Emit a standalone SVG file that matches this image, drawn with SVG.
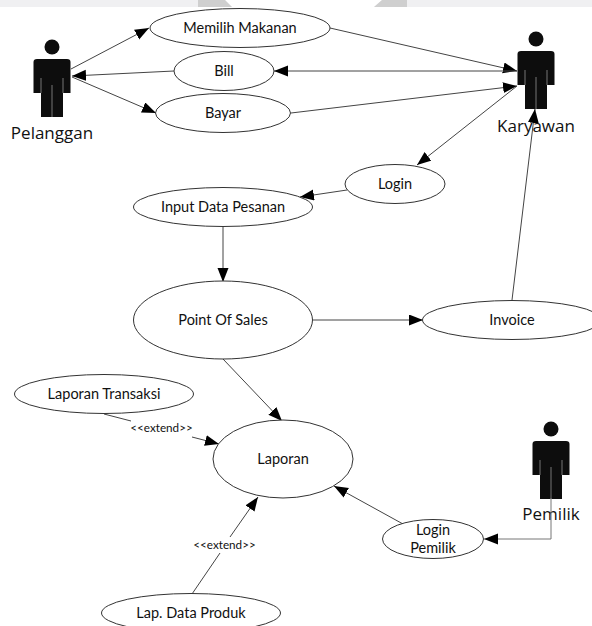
<svg xmlns="http://www.w3.org/2000/svg" width="592" height="626" viewBox="0 0 592 626">
<style>
text{font-family:"Lato","Open Sans","Liberation Sans",sans-serif;fill:#111;text-anchor:middle}
.u{font-size:14.500px}
.a{font-family:"Open Sans","Noto Sans","Liberation Sans",sans-serif;font-size:17px}
.s{font-size:11.700px}
ellipse{fill:#fff;stroke:#333;stroke-width:1}
.c{fill:none;stroke:#444;stroke-width:1}
.p{fill:#0d0d0d}
.l{stroke:#777;stroke-width:1;fill:none}
</style>
<defs>
<marker id="ah" markerUnits="userSpaceOnUse" markerWidth="16" markerHeight="12" refX="14" refY="5.500" orient="auto-start-reverse" viewBox="0 0 16 12"><path d="M0 0L14 5.500L0 11Z" fill="#000"/></marker>
<symbol id="actor" overflow="visible"><circle cx="0" cy="-25" r="7.500" class="p"/><path class="p" d="M-15-13Q-18.500-13-18.500-10V21H-11V45H11V21H18.500V-10Q18.500-13 15-13Z"/><path class="l" d="M-11 6V21M11 6V21M0 13V45"/></symbol>
</defs>
<path d="M0 0H225L232 7H0Z M382 0H592V7H374Z" fill="#f0f0f2"/>
<path d="M198 0H225L232 7H198Z M382 0H407V7H374Z" fill="#cfcfcf"/>
<g id="connectors">
<path class="c" marker-end="url(#ah)" d="M71 69L149 28"/>
<path class="c" marker-end="url(#ah)" d="M330 28L517 71"/>
<path class="c" marker-start="url(#ah)" d="M274 71H517"/>
<path class="c" marker-end="url(#ah)" d="M174 71L72 76"/>
<path class="c" marker-end="url(#ah)" d="M72 77L156 113"/>
<path class="c" marker-end="url(#ah)" d="M291 113L517 86"/>
<path class="c" marker-end="url(#ah)" d="M517 86L417 165"/>
<path class="c" marker-end="url(#ah)" d="M347 190L300 197"/>
<path class="c" marker-end="url(#ah)" d="M223 227V282"/>
<path class="c" marker-end="url(#ah)" d="M313 320H423"/>
<path class="c" marker-end="url(#ah)" d="M512 300L535 109"/>
<path class="c" marker-end="url(#ah)" d="M223 359L282 421"/>
<path class="c" d="M104 414L131 421"/>
<path class="c" marker-end="url(#ah)" d="M192 437L219 444"/>
<path class="c" d="M192 594L220 553"/>
<path class="c" marker-end="url(#ah)" d="M230 537L258 497"/>
<path class="c" marker-end="url(#ah)" d="M403 524L334 486"/>
</g>
<g id="n-memilih"><ellipse cx="240" cy="28" rx="90" ry="19.500"/><text class="u" x="240" y="33">Memilih Makanan</text></g>
<g id="n-bill"><ellipse cx="224" cy="71" rx="50" ry="19.500"/><text class="u" x="224" y="76">Bill</text></g>
<g id="n-bayar"><ellipse cx="223" cy="113" rx="67.500" ry="19.500"/><text class="u" x="223" y="118">Bayar</text></g>
<g id="n-login"><ellipse cx="395" cy="184" rx="50" ry="19.500"/><text class="u" x="395" y="189">Login</text></g>
<g id="n-input"><ellipse cx="223" cy="207" rx="89.500" ry="19.500"/><text class="u" x="223" y="212">Input Data Pesanan</text></g>
<g id="n-pos"><ellipse cx="223" cy="320" rx="89.500" ry="39"/><text class="u" x="223" y="325">Point Of Sales</text></g>
<g id="n-invoice"><ellipse cx="512" cy="320" rx="89.500" ry="19.500"/><text class="u" x="512" y="325">Invoice</text></g>
<g id="n-laporan-t"><ellipse cx="104" cy="394" rx="89.500" ry="19.500"/><text class="u" x="104" y="399">Laporan Transaksi</text></g>
<g id="n-laporan"><ellipse cx="283" cy="459" rx="70" ry="39"/><text class="u" x="283" y="464">Laporan</text></g>
<g id="n-produk"><ellipse cx="191" cy="613" rx="89.500" ry="19.500"/><text class="u" x="191" y="618">Lap. Data Produk</text></g>
<g id="n-login-p"><ellipse cx="433" cy="539" rx="50.500" ry="19.500"/><text class="u" x="433" y="535">Login</text><text class="u" x="433" y="553">Pemilik</text></g>
<g id="a-pelanggan"><use href="#actor" x="52" y="72"/><text class="a" x="52" y="139">Pelanggan</text></g>
<g id="a-karyawan"><use href="#actor" x="536" y="64"/><text class="a" x="536" y="132">Karyawan</text></g>
<g id="a-pemilik"><use href="#actor" x="551" y="454"/><text class="a" x="551" y="520">Pemilik</text></g>
<g id="l-ext1"><text class="s" x="161.500" y="432">&lt;&lt;extend&gt;&gt;</text></g>
<g id="l-ext2"><text class="s" x="224.500" y="549">&lt;&lt;extend&gt;&gt;</text></g>
<g id="connector-pemilik"><path class="l" marker-end="url(#ah)" d="M551 498V539H484"/></g>
</svg>
